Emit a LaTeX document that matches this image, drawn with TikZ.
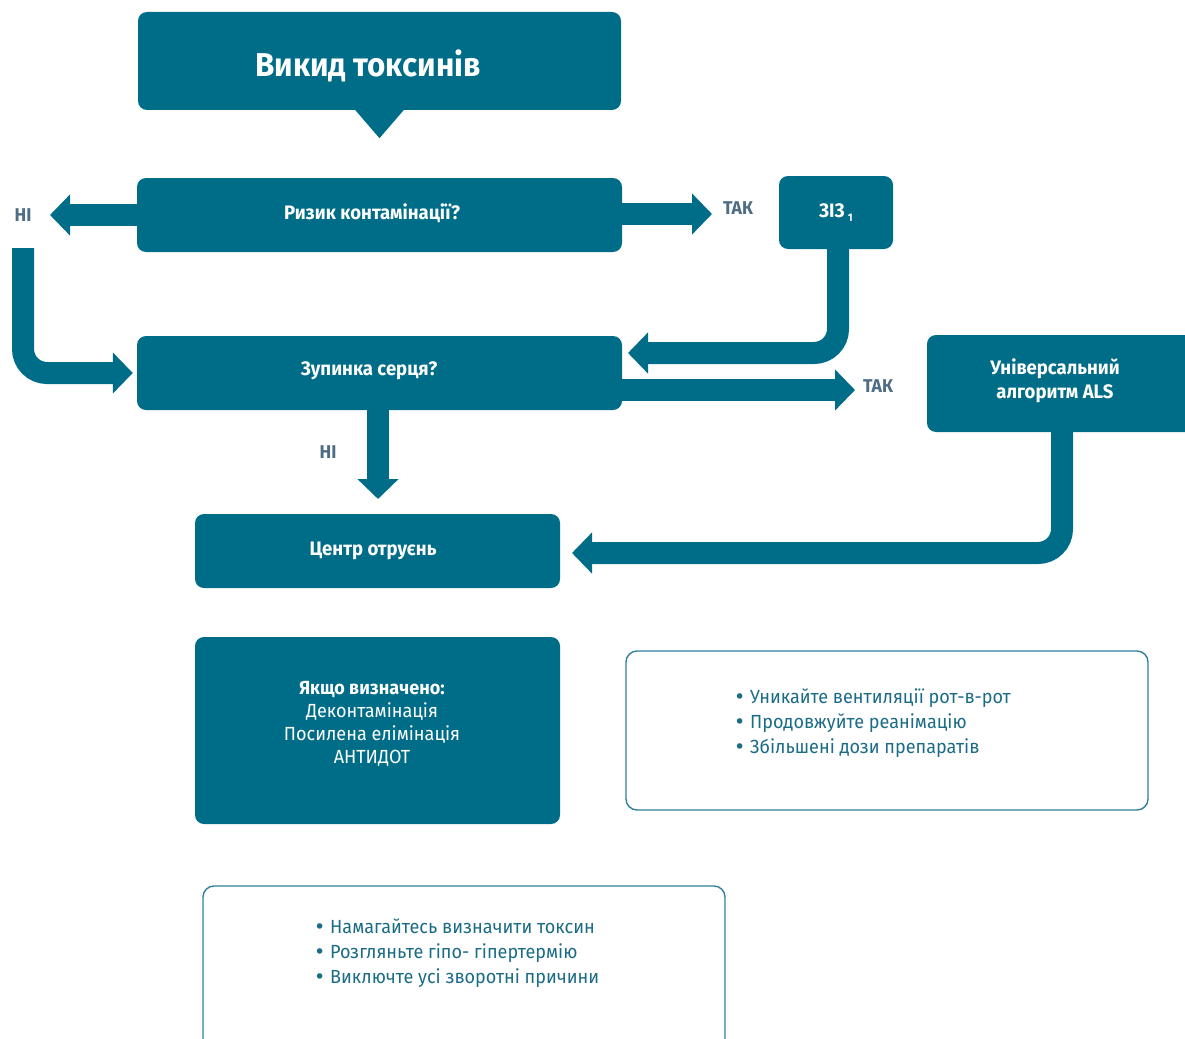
\documentclass[tikz,border=0pt]{standalone}
\usepackage{fontspec}
\setmainfont{Fira Sans}[FakeStretch=0.95]
\newfontfamily\bulletfont{DejaVu Sans}
\usetikzlibrary{arrows.meta}

\definecolor{petrol}{HTML}{006D88}
\definecolor{labgray}{HTML}{4E6C83}
\definecolor{notetext}{HTML}{1B6C86}
\definecolor{noteline}{HTML}{2E809A}

% list bullet taken from a font with a fuller dot
\newcommand\blt{{\bulletfont •}\ }

\tikzset{
  box/.style={fill=petrol, rounded corners=9pt, text=white, align=center,
    inner sep=0pt, font=\bfseries\fontsize{19.5}{24}\selectfont},
  boxtext/.style={text=white, align=center, inner sep=0pt,
    font=\bfseries\fontsize{19.5}{24}\selectfont},
  note/.style={draw=noteline, line width=1.4pt, rounded corners=11pt, fill=white, inner sep=0pt},
  notebody/.style={text=notetext, align=left, anchor=west, inner sep=0pt,
    font=\fontsize{19}{25}\selectfont},
  flow/.style={draw=petrol, line width=22pt, rounded corners=24pt,
    -{Triangle[length=20pt,width=40pt]}},
  lab/.style={text=labgray, inner sep=0pt, font=\bfseries\fontsize{18.5}{20}\selectfont},
}

\begin{document}
\begin{tikzpicture}[x=1pt,y=-1pt]
\useasboundingbox (0,0) rectangle (1185,1038);
\clip (0,0) rectangle (1185,1038);

% boxes
\node[box, minimum width=483pt, minimum height=98pt] (release) at (379.5,61) {};
\node[boxtext, font=\bfseries\fontsize{33}{36}\selectfont] (releasetext) at (368,66) {Викид токсинів};
\fill[petrol] ([xshift=-25pt,yshift=1pt]release.south) -- ([xshift=25pt,yshift=1pt]release.south)
  -- ([yshift=-28pt]release.south) -- cycle;

\node[box, minimum width=485pt, minimum height=74pt] (risk) at (379.5,215) {};
\node[boxtext] (risktext) at (372,213) {Ризик контамінації?};
\node[box, minimum width=114pt, minimum height=73pt] (ppe) at (836,212.5)
  {ЗІЗ\,{\fontsize{11}{11}\selectfont\raisebox{-4pt}{1}}};
\node[box, minimum width=280pt, minimum height=97pt] (als) at (1067,383.5) {};
\node[boxtext] (alstext) at (1055,381) {Універсальний\\алгоритм ALS};
\node[box, minimum width=485pt, minimum height=74pt] (arrest) at (379.5,373) {};
\node[boxtext] (arresttext) at (369,371) {Зупинка серця?};
\node[box, minimum width=365pt, minimum height=74pt] (centre) at (377.5,551) {};
\node[boxtext] (centretext) at (373,551) {Центр отруєнь};
\node[box, minimum width=365pt, minimum height=187pt] (known) at (377.5,730.5) {};
\node[boxtext, font=\fontsize{19}{23}\selectfont] (knowntext) at (372,724)
  {\textbf{Якщо визначено:}\\Деконтамінація\\Посилена елімінація\\АНТИДОТ};

\node[note, minimum width=522pt, minimum height=159pt] (noteA) at (887,730.5) {};
\node[notebody] (noteAtext) at (734,723)
  {\blt Уникайте вентиляції рот-в-рот\\\blt Продовжуйте реанімацію\\\blt Збільшені дози препаратів};
\node[note, minimum width=522pt, minimum height=180pt] (noteB) at (464,976) {};
\node[notebody] (noteBtext) at (314,953)
  {\blt Намагайтесь визначити токсин\\\blt Розгляньте гіпо- гіпертермію\\\blt Виключте усі зворотні причини};

% branch labels
\node[lab] (noA) at (23,215) {НІ};
\node[lab] (yesA) at (738,208) {ТАК};
\node[lab] (yesB) at (878,386) {ТАК};
\node[lab] (noB) at (328,452) {НІ};

% connector end points
\coordinate (noAtip) at (50,215);
\coordinate (noAstart) at (23,248);
\coordinate (yesAtip) at (712,214);
\coordinate (ppeIn) at (628,353);
\coordinate (yesBtip) at (855,390);
\coordinate (noBtip) at (378,499);
\coordinate (alsOut) at (1062,432);
\coordinate (centreIn) at (572,553);

% connectors
\draw[flow] (risk.west) -- (noAtip);
\draw[flow] (risk.east |- yesAtip) -- (yesAtip);
\draw[flow] (noAstart) |- ([xshift=-4pt]arrest.west);
\draw[flow] (ppe.south -| 838,0) |- (ppeIn);
\draw[flow] (arrest.east |- yesBtip) -- (yesBtip);
\draw[flow] (arrest.south -| noBtip) -- (noBtip);
\draw[flow] (alsOut) |- (centreIn);
\end{tikzpicture}
\end{document}
